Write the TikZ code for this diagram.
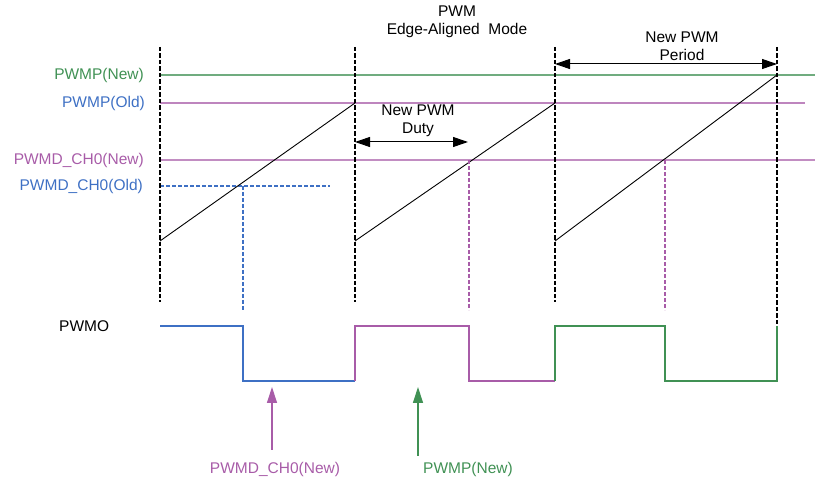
\documentclass[tikz,border=0pt]{standalone}
\usepackage{fontspec}
\setmainfont{Liberation Sans}
\usetikzlibrary{arrows.meta, positioning, calc}

\definecolor{pwmgreen}{RGB}{64,145,84}
\definecolor{pwmpurple}{RGB}{168,92,168}
\definecolor{pwmblue}{RGB}{62,112,196}

\begin{document}
\begin{tikzpicture}[
    x=1pt, y=-1pt,
    lbl/.style={font=\fontsize{15.5}{18.5}\selectfont, inner sep=0pt, align=center},
    level/.style={draw, line width=1.1pt},
    edgeline/.style={draw, dash pattern=on 4.5pt off 2pt, line width=1.4pt},
    drop/.style={draw, dash pattern=on 4pt off 2pt, line width=1.3pt},
    ramp/.style={draw, line width=0.9pt},
    wave/.style={draw, line width=1.3pt},
    span/.style={draw, {Triangle[length=15pt,width=10pt]}-{Triangle[length=15pt,width=10pt]}, line width=1pt},
    pointer/.style={draw, -{Triangle[length=16pt,width=10pt]}, line width=1.2pt}
]
\useasboundingbox (0,0) rectangle (815,481);

% period edges
\coordinate (t0) at (160,47);  \coordinate (b0) at (160,302);
\coordinate (t1) at (355,47);  \coordinate (b1) at (355,302);
\coordinate (t2) at (555,47);  \coordinate (b2) at (555,302);
\coordinate (t3) at (777,47);  \coordinate (b3) at (777,326);

% level labels
\node [lbl, anchor=east, text=pwmgreen] (pnew) at (144,75) {PWMP(New)};
\node [lbl, anchor=east, text=pwmblue] (pold) at (145,103) {PWMP(Old)};
\node [lbl, anchor=east, text=pwmpurple] (dnew) at (144,160) {PWMD\_CH0(New)};
\node [lbl, anchor=east, text=pwmblue] (dold) at (143,186) {PWMD\_CH0(Old)};
\node [lbl, anchor=west] (pwmo) at (59,326) {PWMO};

% level lines
\coordinate (pnewR) at (815,75);
\coordinate (poldR) at (805,103);
\coordinate (dnewR) at (815,160);
\coordinate (doldR) at (330,186);
\path [level, pwmgreen!75] (t0 |- pnew) -- (pnewR);
\path [level, pwmpurple!75] (t0 |- pold) -- (poldR);
\path [level, pwmpurple!70] (t0 |- dnew) -- (dnewR);
\path [drop, pwmblue] (t0 |- dold) -- (doldR);

% sawtooth
\coordinate (r0) at (160,241);  \coordinate (p0) at (355,103);
\coordinate (r1) at (355,241);  \coordinate (p1) at (555,103);
\coordinate (r2) at (555,241);  \coordinate (p2) at (777,75);
\path [ramp] (r0) -- (p0);
\path [ramp] (r1) -- (p1);
\path [ramp] (r2) -- (p2);

% compare points
\coordinate (c0) at (243,186);  \coordinate (d0) at (243,310);
\coordinate (c1) at (469,160);  \coordinate (d1) at (469,310);
\coordinate (c2) at (665,160);  \coordinate (d2) at (665,310);
\path [drop, pwmblue] (c0) -- (d0);
\path [drop, pwmpurple] (c1) -- (d1);
\path [drop, pwmpurple] (c2) -- (d2);

\path [edgeline] (t0) -- (b0);
\path [edgeline] (t1) -- (b1);
\path [edgeline] (t2) -- (b2);
\path [edgeline] (t3) -- (b3);

% output waveform
\path [wave, pwmblue] (pwmo -| t0) -- (pwmo -| d0) -- (d0 |- 0,381) -- (b1 |- 0,381);
\path [wave, pwmpurple] (b1 |- 0,381) -- (b1 |- pwmo) -- (pwmo -| d1) -- (d1 |- 0,381) -- (b2 |- 0,381);
\path [wave, pwmgreen] (b2 |- 0,381) -- (b2 |- pwmo) -- (pwmo -| d2) -- (d2 |- 0,381) -- (b3 |- 0,381) -- (b3);

% annotations
\node [lbl] (title) at (457,22) {PWM\\Edge-Aligned\ \ Mode};
\node [lbl] (period) at (682,46) {New PWM\\Period};
\node [lbl] (duty) at (418,121) {New PWM\\Duty};
\coordinate (perL) at (555,64);  \coordinate (perR) at (777,64);
\coordinate (dutyL) at (355,142);  \coordinate (dutyR) at (468,142);
\path [span] (perL) -- (perR);
\path [span] (dutyL) -- (dutyR);

% update markers
\node [lbl, text=pwmpurple] (mdnew) at (275,469) {PWMD\_CH0(New)};
\node [lbl, text=pwmgreen] (mpnew) at (468,469) {PWMP(New)};
\coordinate (mdtip) at (272,387);
\coordinate (mptip) at (418,387);
\path [pointer, pwmpurple, shorten <=12pt] (mdnew.north -| mdtip) -- (mdtip);
\path [pointer, pwmgreen, shorten <=6pt] (mpnew.north -| mptip) -- (mptip);

\end{tikzpicture}
\end{document}
